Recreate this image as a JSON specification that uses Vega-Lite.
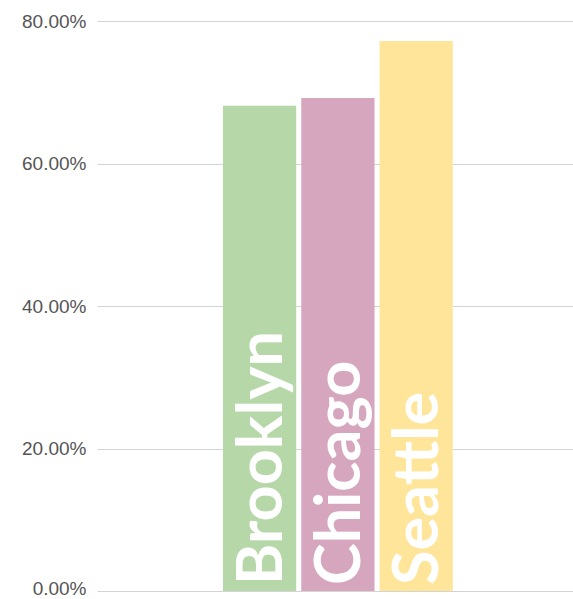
{
  "$schema": "https://vega.github.io/schema/vega-lite/v6.json",
  "width": 476,
  "height": 570,
  "autosize": {"type": "none"},
  "padding": {"left": 97, "top": 21, "right": 0, "bottom": 8},
  "background": "white",
  "config": {"view": {"stroke": null}},
  "data": {
    "values": [
      {"city": "Brooklyn", "share": 0.681},
      {"city": "Chicago", "share": 0.692},
      {"city": "Seattle", "share": 0.772}
    ]
  },
  "encoding": {
    "x": {
      "datum": "all",
      "type": "nominal",
      "scale": {"paddingInner": 0, "paddingOuter": 0.5128, "align": 0.512},
      "axis": null
    },
    "xOffset": {
      "field": "city",
      "type": "nominal",
      "sort": null,
      "scale": {"paddingInner": 0.065, "paddingOuter": 0.0325}
    }
  },
  "layer": [
    {
      "mark": {"type": "bar"},
      "encoding": {
        "y": {
          "field": "share",
          "type": "quantitative",
          "scale": {"domain": [0, 0.8], "nice": false},
          "axis": {
            "format": ".2%",
            "values": [0, 0.2, 0.4, 0.6, 0.8],
            "title": null,
            "domain": false,
            "ticks": false,
            "tickSize": 0,
            "labelPadding": 11,
            "labelFont": "Liberation Sans",
            "labelFontSize": 19,
            "labelOffset": {"condition": {"test": "datum.value == 0", "value": -3}, "value": 0},
            "labelColor": "#555555",
            "gridColor": "#d4d4d4",
            "gridWidth": 1
          }
        },
        "color": {
          "field": "city",
          "type": "nominal",
          "scale": {"domain": ["Brooklyn", "Chicago", "Seattle"], "range": ["#b6d7a8", "#d5a6bd", "#ffe599"]},
          "legend": null
        }
      }
    },
    {
      "mark": {
        "type": "text",
        "angle": -90,
        "align": "left",
        "baseline": "alphabetic",
        "dx": 6,
        "dy": 22,
        "font": "Lato",
        "fontWeight": "bold",
        "fontSize": 63,
        "color": "white"
      },
      "encoding": {
        "y": {"datum": 0, "type": "quantitative"},
        "text": {"field": "city"}
      }
    }
  ]
}
